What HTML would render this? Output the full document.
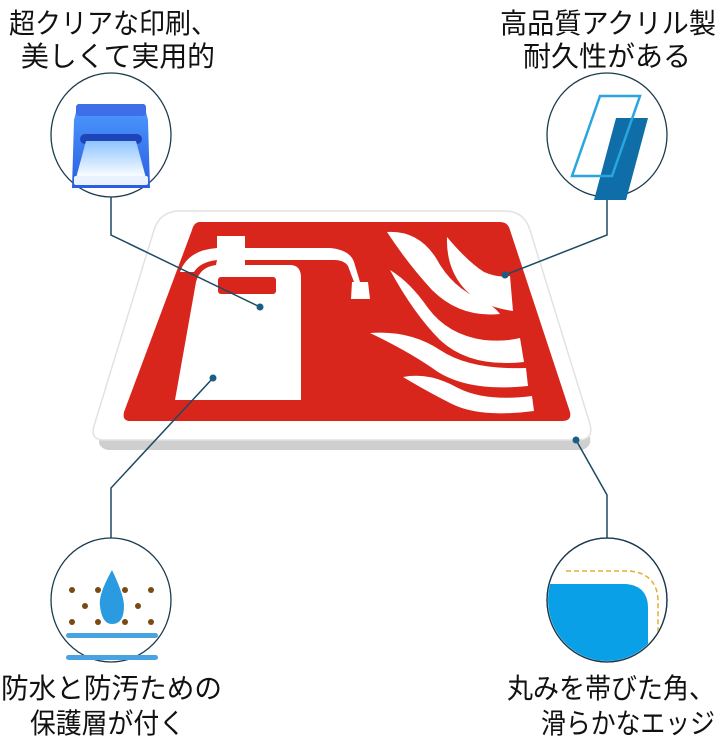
<!DOCTYPE html>
<html><head><meta charset="utf-8"><style>
html,body{margin:0;padding:0;background:#fff;}
svg{display:block;}
text{font-family:"Liberation Sans","Noto Sans CJK JP",sans-serif;font-size:28px;fill:#111;}
</style></head><body>
<svg width="720" height="737" viewBox="0 0 720 737" xmlns="http://www.w3.org/2000/svg">
<defs>
<linearGradient id="pg" x1="0" y1="0" x2="0" y2="1"><stop offset="0" stop-color="#4d9bff"/><stop offset="1" stop-color="#2a5de0"/></linearGradient>
<linearGradient id="pp" x1="0" y1="0" x2="0" y2="1"><stop offset="0" stop-color="#8ec4ff"/><stop offset="1" stop-color="#ffffff"/></linearGradient>
</defs>
<text x="9" y="33" textLength="208" lengthAdjust="spacingAndGlyphs">超クリアな印刷、</text>
<text x="21" y="66" textLength="194" lengthAdjust="spacingAndGlyphs">美しくて実用的</text>
<text x="500" y="33" textLength="216" lengthAdjust="spacingAndGlyphs">高品質アクリル製</text>
<text x="523" y="66" textLength="168" lengthAdjust="spacingAndGlyphs">耐久性がある</text>
<text x="1" y="698" textLength="221" lengthAdjust="spacingAndGlyphs">防水と防汚ための</text>
<text x="30" y="733" textLength="155" lengthAdjust="spacingAndGlyphs">保護層が付く</text>
<text x="507" y="698" textLength="208" lengthAdjust="spacingAndGlyphs">丸みを帯びた角、</text>
<text x="541" y="733" textLength="174" lengthAdjust="spacingAndGlyphs">滑らかなエッジ</text>

<!-- sign -->
<path d="M100,437 L590,437 Q592,447 582,450 L108,450 Q96,447 100,437Z" fill="#cfcfcf"/>
<path d="M180,211 L505,211 Q524,211 530,230 L590,424 Q594,440 578,440 L104,440 Q90,440 94,426 L154,230 Q160,211 180,211Z" fill="#fff" stroke="#e2e2e2" stroke-width="1.5"/>
<path d="M200,222 L500,222 Q508,222 510,230 L570,412 Q572,421 562,421 L130,421 Q122,421 124,412 L192,230 Q194,222 200,222Z" fill="#d9261c"/>
<!-- extinguisher -->
<path d="M217,248 L217,236 L245,236 L245,248 L330,248 Q350,250 354,262 L360,282 L368,282 L370,299 L351,299 L352,282 L354,282 L348,266 Q344,260 334,260 L245,260 L245,265 L290,265 Q300,265 301,276 L301,400 L175,400 L196,282 Q200,267 216,265 L217,260 Q200,262 194,272 L180,272 Q188,250 217,248Z" fill="#fff"/>
<rect x="218" y="277" width="58" height="17" rx="3" fill="#d9261c"/>
<!-- flames -->
<path d="M387,232 Q418,230 436,258 Q452,288 482,300 Q494,306 500,314 Q460,318 432,290 Q408,264 387,232Z" fill="#fff"/>
<path d="M447,237 Q468,262 484,272 Q498,278 510,276 L513,311 Q478,306 462,286 Q446,266 447,237Z" fill="#fff"/>
<path d="M390,270 Q410,282 428,308 Q448,335 484,340 Q504,342 520,338 L524,362 Q470,368 440,340 Q414,314 390,270Z" fill="#fff"/>
<path d="M370,333 Q410,330 440,350 Q470,370 526,368 L528,386 Q470,392 438,372 Q410,352 370,333Z" fill="#fff"/>
<path d="M403,377 Q430,372 458,388 Q486,402 532,396 L534,411 Q480,418 452,404 Q428,392 403,377Z" fill="#fff"/>
<!-- connector lines -->
<g stroke="#1c4a63" stroke-width="1.5" fill="none">
<polyline points="111,197 111,235 260,307"/>
<polyline points="607,197 607,235 505,275"/>
<polyline points="213,378 111,488 111,538"/>
<polyline points="576,440 607,495 607,538"/>
</g>
<g fill="#1a5e86">
<circle cx="260" cy="307" r="3.5"/><circle cx="505" cy="275" r="3.5"/>
<circle cx="213" cy="378" r="3.5"/><circle cx="576" cy="440" r="3.5"/>
</g>
<g fill="#fff" stroke="#1c3a4e" stroke-width="1.3">
<ellipse cx="111" cy="135" rx="60" ry="62"/>
<ellipse cx="607" cy="135" rx="60" ry="62"/>
<ellipse cx="111" cy="600" rx="60" ry="62"/>
<ellipse cx="607" cy="600" rx="60" ry="62"/>
</g>
<!-- printer -->
<path d="M78,104 L144,104 L148,120 L150,188 L72,188 L74,120Z" fill="url(#pg)"/>
<rect x="76" y="104" width="70" height="12" rx="3" fill="#3f6fe8"/>
<rect x="80" y="134" width="62" height="10" rx="5" fill="#1e45b8"/>
<path d="M86,141 L136,141 L146,178 L76,178Z" fill="url(#pp)"/>
<rect x="74" y="176" width="74" height="9" rx="2" fill="#eaf2ff"/>
<!-- acrylic -->
<path d="M616,118 L648,118 L626,200 L594,200Z" fill="#0f6ea8"/>
<path d="M600,96 L640,96 L612,176 L572,176Z" fill="none" stroke="#29a6e0" stroke-width="2.5"/>
<!-- waterproof -->
<g fill="#7a4a14">
<circle cx="72" cy="590" r="3"/><circle cx="98" cy="590" r="3"/><circle cx="125" cy="590" r="3"/><circle cx="151" cy="590" r="3"/>
<circle cx="85" cy="606" r="3"/><circle cx="138" cy="606" r="3"/>
<circle cx="72" cy="622" r="3"/><circle cx="98" cy="622" r="3"/><circle cx="125" cy="622" r="3"/><circle cx="151" cy="622" r="3"/>
</g>
<path d="M112,570 Q98,595 100,606 Q102,624 112,624 Q124,624 124,606 Q124,595 112,570Z" fill="#2a9be0"/>
<rect x="66" y="633" width="92" height="5" rx="2.5" fill="#49a3e0"/>
<rect x="66" y="655" width="92" height="5" rx="2.5" fill="#49a3e0"/>
<clipPath id="cc"><ellipse cx="607" cy="600" rx="59" ry="61"/></clipPath>
<g clip-path="url(#cc)">
<path d="M540,584 L626,584 Q648,586 648,608 L648,680 L540,680Z" fill="#0aa0e8"/>
<path d="M566,571 L630,571 Q657,574 658,600 L658,680" fill="none" stroke="#e0b030" stroke-width="1.5" stroke-dasharray="5,3"/>
</g>
<ellipse cx="607" cy="600" rx="60" ry="62" fill="none" stroke="#1c3a4e" stroke-width="1.3"/>
</svg>
</body></html>
